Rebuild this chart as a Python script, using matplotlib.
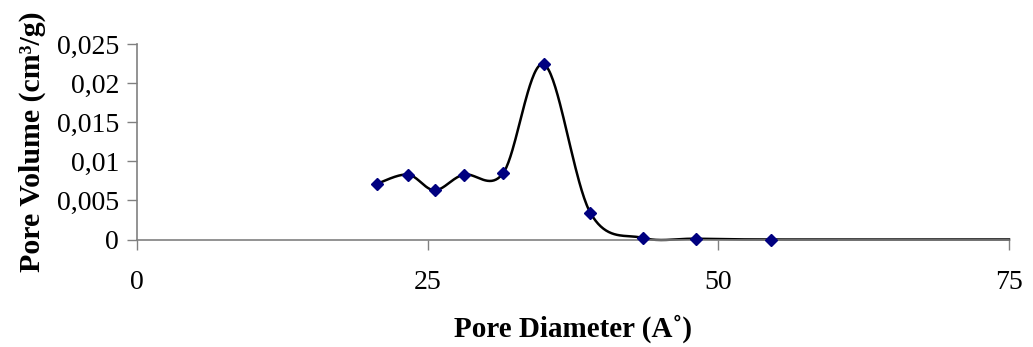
import numpy as np
import matplotlib
matplotlib.use("Agg")
import matplotlib.pyplot as plt

# Data
pore_diameter = [20.6, 23.3, 25.6, 28.1, 31.5, 35.0, 39.0, 43.5, 48.1, 54.5]
pore_volume = [0.0071, 0.0083, 0.0063, 0.0083, 0.0085, 0.0224, 0.0034, 0.0002, 0.0001, 0.0]
# line continues along zero up to the end of the axis
tail_diameter = [75.0]
tail_volume = [0.0]

x_ticks = [0, 25, 50, 75]
y_ticks = [0, 0.005, 0.01, 0.015, 0.02, 0.025]
y_tick_labels = ["0", "0,005", "0,01", "0,015", "0,02", "0,025"]


def smooth(xs, ys, n=40):
    """Excel-style smoothed line (Catmull-Rom Bezier)."""
    xs = np.asarray(xs, float)
    ys = np.asarray(ys, float)
    P = np.column_stack([xs, ys])
    out = []
    for i in range(len(P) - 1):
        p0 = P[i - 1] if i > 0 else P[i]
        p1 = P[i]
        p2 = P[i + 1]
        p3 = P[i + 2] if i + 2 < len(P) else P[i + 1]
        c1 = p1 + (p2 - p0) / 6.0
        c2 = p2 - (p3 - p1) / 6.0
        t = np.linspace(0, 1, n)[:, None]
        seg = ((1 - t) ** 3) * p1 + 3 * ((1 - t) ** 2) * t * c1 + 3 * (1 - t) * t ** 2 * c2 + t ** 3 * p2
        out.append(seg if i == 0 else seg[1:])
    S = np.vstack(out)
    return S[:, 0], S[:, 1]


plt.rcParams['font.family'] = ['Liberation Serif', 'DejaVu Serif']

fig = plt.figure(figsize=(10.33, 3.47), dpi=100)
ax = fig.add_axes([137 / 1033, 1 - 239.5 / 347, (1009 - 137) / 1033, (239.5 - 44) / 347])

lx, ly = smooth(pore_diameter + tail_diameter, pore_volume + tail_volume)
ax.plot(lx, ly, color="black", lw=1.8, zorder=2, clip_on=False)
ax.plot(pore_diameter, pore_volume, linestyle="none", marker="D", markersize=6.5,
        color="#000080", zorder=3, clip_on=False)

ax.set_xlim(0, 75)
ax.set_ylim(0, 0.025)
ax.set_xticks(x_ticks)
ax.set_xticklabels([str(t) for t in x_ticks])
ax.set_yticks(y_ticks)
ax.set_yticklabels(y_tick_labels)

for s in ["top", "right"]:
    ax.spines[s].set_visible(False)
for s in ["left", "bottom"]:
    ax.spines[s].set_color("#808080")
    ax.spines[s].set_linewidth(1.2)

ax.tick_params(axis="x", direction="out", length=7, width=1, color="#808080",
               labelsize=20, pad=15)
ax.tick_params(axis="y", direction="out", length=7, width=1, color="#808080",
               labelsize=20, pad=6)

ax.set_xlabel("Pore Diameter (A˚)", fontsize=21, fontweight="bold", labelpad=14)
ax.set_ylabel("Pore Volume (cm³/g)", fontsize=21.5, fontweight="bold", labelpad=8)

fig.savefig("out.png", dpi=100)
